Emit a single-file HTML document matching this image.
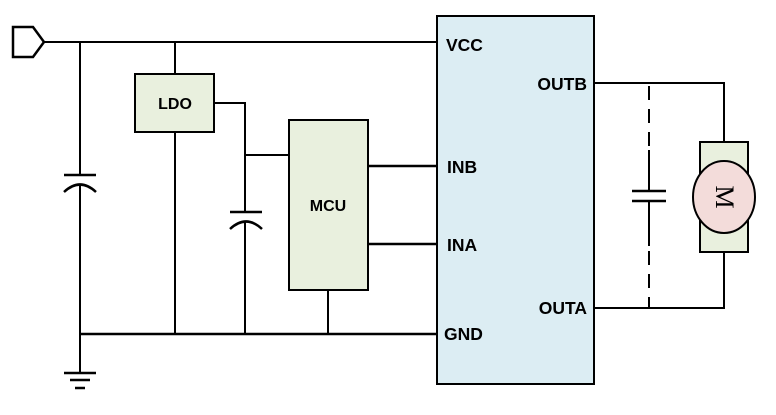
<!DOCTYPE html>
<html><head><meta charset="utf-8"><style>
html,body{margin:0;padding:0;background:#fff;}
svg{display:block;}
text{font-family:"Liberation Sans",sans-serif;font-weight:bold;font-size:17.5px;fill:#000;}
</style></head><body>
<svg width="776" height="415" viewBox="0 0 776 415" xmlns="http://www.w3.org/2000/svg">
<g stroke="#000" stroke-width="2" fill="none">
<path d="M13 27 H33 L44 42 L33 57 H13 Z" stroke-width="2.5"/>
<line x1="44" y1="42" x2="437" y2="42"/>
<line x1="80" y1="42" x2="80" y2="175"/>
<line x1="64" y1="175" x2="96" y2="175" stroke-width="2.5"/>
<path d="M64 192 Q80 177 96 192" stroke-width="2.5"/>
<line x1="80" y1="184" x2="80" y2="373"/>
<line x1="64" y1="373" x2="96" y2="373" stroke-width="2.5"/>
<line x1="70" y1="380" x2="90" y2="380" stroke-width="2.5"/>
<line x1="75" y1="388" x2="85" y2="388" stroke-width="2.5"/>
<line x1="80" y1="334" x2="437" y2="334" stroke-width="2.5"/>
<line x1="175" y1="42" x2="175" y2="74"/>
<line x1="175" y1="132" x2="175" y2="334"/>
<polyline points="214,103 245,103 245,212"/>
<line x1="245" y1="155" x2="289" y2="155"/>
<line x1="230" y1="212" x2="262" y2="212" stroke-width="2.5"/>
<path d="M230 229 Q246 214 262 229" stroke-width="2.5"/>
<line x1="245" y1="222" x2="245" y2="334"/>
<line x1="328" y1="290" x2="328" y2="334"/>
<line x1="368" y1="166" x2="437" y2="166" stroke-width="2.5"/>
<line x1="368" y1="244" x2="437" y2="244" stroke-width="2.5"/>
<polyline points="594,83 724,83 724,142"/>
<polyline points="594,308 724,308 724,252"/>
<line x1="649" y1="86" x2="649" y2="191" stroke-dasharray="14,9"/>
<line x1="649" y1="201" x2="649" y2="308" stroke-dasharray="14,9" stroke-dashoffset="-4"/>
<line x1="649" y1="150" x2="649" y2="191"/>
<line x1="649" y1="201" x2="649" y2="246"/>
<line x1="632" y1="191" x2="666" y2="191" stroke-width="2.5"/>
<line x1="632" y1="201" x2="666" y2="201" stroke-width="2.5"/>
</g>
<rect x="135" y="74" width="79" height="58" fill="#e9f0de" stroke="#000" stroke-width="2"/>
<text x="175" y="109" text-anchor="middle" style="font-size:16px">LDO</text>
<rect x="289" y="120" width="79" height="170" fill="#e9f0de" stroke="#000" stroke-width="2"/>
<text x="328" y="211" text-anchor="middle" style="font-size:16px">MCU</text>
<rect x="437" y="16" width="157" height="368" fill="#dcedf3" stroke="#000" stroke-width="2"/>
<text x="446" y="51">VCC</text>
<text x="587" y="90" text-anchor="end">OUTB</text>
<text x="447" y="173">INB</text>
<text x="447" y="251">INA</text>
<text x="587" y="314" text-anchor="end">OUTA</text>
<text x="444" y="340">GND</text>
<rect x="700" y="142" width="48" height="110" fill="#e9f0de" stroke="#000" stroke-width="2"/>
<ellipse cx="724" cy="197" rx="31" ry="36" fill="#f3dcda" stroke="#000" stroke-width="2"/>
<text x="0" y="0" transform="translate(716,197) rotate(90)" text-anchor="middle" style="font-family:'Liberation Serif',serif;font-weight:normal;font-size:26px">M</text>
</svg>
</body></html>
